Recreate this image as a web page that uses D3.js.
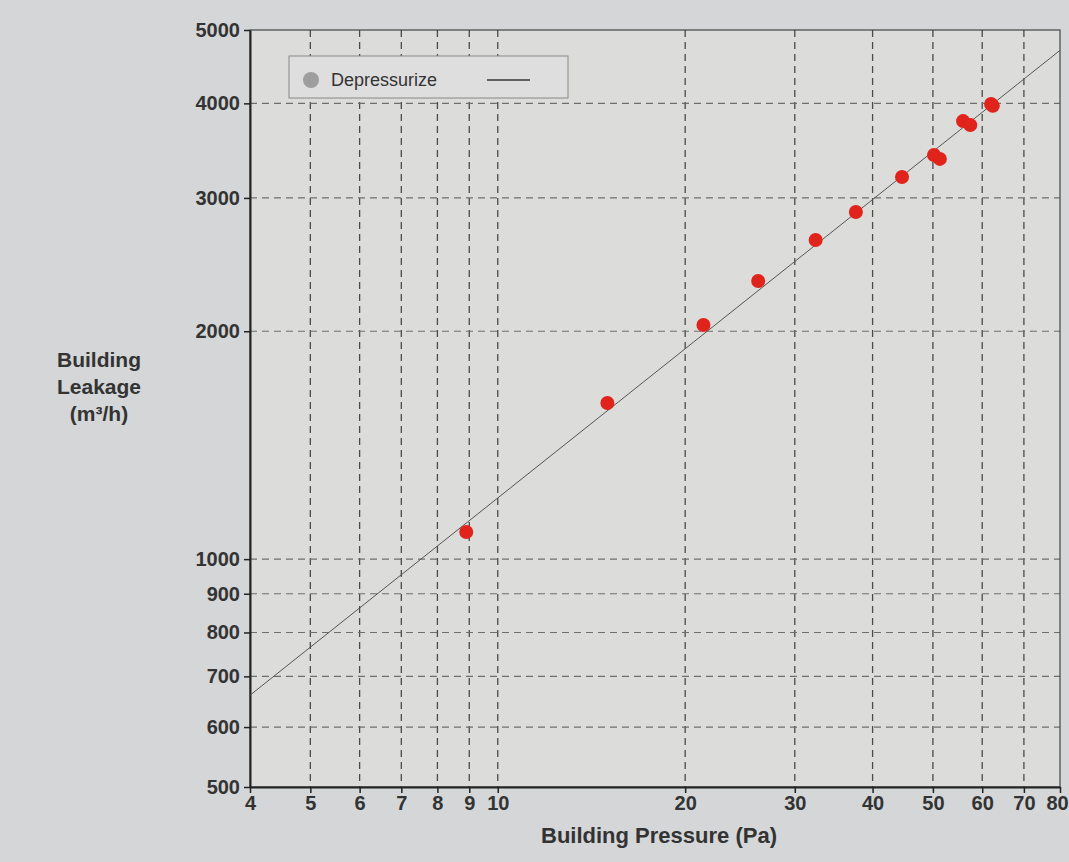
<!DOCTYPE html>
<html>
<head>
<meta charset="utf-8">
<script src="https://cdn.jsdelivr.net/npm/d3@7"></script>
<style>
  body { margin: 0; background: #d4d6d7; }
  svg { display: block; }
  text { font-family: "Liberation Sans", Arial, sans-serif; }
</style>
</head>
<body>
<svg id="chart" width="1069" height="862"></svg>
<script>
// data
var pressure = [8.9, 15.0, 21.4, 26.2, 32.4, 37.6, 44.6, 50.2, 51.3, 55.9, 57.4, 62.0, 62.4];
var leakage  = [1086, 1608, 2038, 2330, 2640, 2874, 3197, 3419, 3378, 3790, 3744, 3992, 3970];
var fitLine = [[4, 661], [80, 4700]];
var xTicks = [4, 5, 6, 7, 8, 9, 10, 20, 30, 40, 50, 60, 70, 80];
var yTicks = [500, 600, 700, 800, 900, 1000, 2000, 3000, 4000, 5000];
var xGrid = [5, 6, 7, 8, 9, 10, 20, 30, 40, 50, 60, 70];
var yGrid = [600, 700, 800, 900, 1000, 2000, 3000, 4000];

var svg = d3.select("#chart");

var plotLeft = 250, plotRight = 1060, plotTop = 30, plotBottom = 787;

var x = d3.scaleLog().domain([4, 80]).range([plotLeft, plotRight]);
var y = d3.scaleLog().domain([500, 5000]).range([plotBottom, plotTop]);

// plot background
svg.append("rect")
  .attr("x", plotLeft).attr("y", plotTop)
  .attr("width", plotRight - plotLeft).attr("height", plotBottom - plotTop)
  .attr("fill", "#dcdcdb");

// dashed grid
svg.append("g").selectAll("line")
  .data(xGrid).enter().append("line")
  .attr("x1", d => x(d)).attr("x2", d => x(d))
  .attr("y1", plotTop).attr("y2", plotBottom)
  .attr("stroke", "#4a4a4a")
  .attr("stroke-width", 1.3)
  .attr("stroke-dasharray", "7,5");

svg.append("g").selectAll("line")
  .data(yGrid).enter().append("line")
  .attr("x1", plotLeft).attr("x2", plotRight)
  .attr("y1", d => y(d)).attr("y2", d => y(d))
  .attr("stroke", "#6e6e6e")
  .attr("stroke-width", 1.2)
  .attr("stroke-dasharray", "7,5");

// frame
svg.append("rect")
  .attr("x", plotLeft).attr("y", plotTop)
  .attr("width", plotRight - plotLeft).attr("height", plotBottom - plotTop)
  .attr("fill", "none")
  .attr("stroke", "#444")
  .attr("stroke-width", 1.2);

// axes
var xAxis = d3.axisBottom(x).tickValues(xTicks).tickFormat(d3.format("d")).tickSize(6).tickSizeOuter(0);
var yAxis = d3.axisLeft(y).tickValues(yTicks).tickFormat(d3.format("d")).tickSize(6).tickSizeOuter(0);

var gx = svg.append("g").attr("transform", "translate(0," + plotBottom + ")").call(xAxis);
var gy = svg.append("g").attr("transform", "translate(" + plotLeft + ",0)").call(yAxis);

[gx, gy].forEach(function(g) {
  g.select(".domain").attr("stroke", "#222").attr("stroke-width", 2);
  g.selectAll(".tick line").attr("stroke", "#222").attr("stroke-width", 1.5);
  g.selectAll(".tick text")
    .attr("fill", "#333")
    .style("font-size", "20px")
    .style("font-weight", "bold");
});
gy.selectAll(".tick text").attr("dx", "-1");
// last label sits at the window edge, nudge it in
gx.selectAll(".tick text").filter(d => d === 80).attr("dx", "-3");

// fit line
var line = d3.line().x(d => x(d[0])).y(d => y(d[1]));
svg.append("path")
  .datum(fitLine)
  .attr("d", line)
  .attr("fill", "none")
  .attr("stroke", "#555")
  .attr("stroke-width", 1);

// points
svg.append("g").selectAll("circle")
  .data(pressure).enter().append("circle")
  .attr("cx", d => x(d))
  .attr("cy", (d, i) => y(leakage[i]))
  .attr("r", 7)
  .attr("fill", "#e0231b");

// legend
var lg = svg.append("g");
lg.append("rect")
  .attr("x", 289).attr("y", 56)
  .attr("width", 279).attr("height", 42)
  .attr("fill", "#dedede")
  .attr("stroke", "#888")
  .attr("stroke-width", 1);
lg.append("circle")
  .attr("cx", 311).attr("cy", 80).attr("r", 8)
  .attr("fill", "#9e9e9e");
lg.append("text")
  .attr("x", 331).attr("y", 86)
  .attr("fill", "#333")
  .style("font-size", "18px")
  .text("Depressurize");
lg.append("line")
  .attr("x1", 487).attr("x2", 530)
  .attr("y1", 80).attr("y2", 80)
  .attr("stroke", "#333").attr("stroke-width", 1.3);

// axis titles
svg.append("text")
  .attr("x", 659).attr("y", 843)
  .attr("text-anchor", "middle")
  .attr("fill", "#333")
  .style("font-size", "22px")
  .style("font-weight", "bold")
  .text("Building Pressure (Pa)");

var yTitle = ["Building", "Leakage", "(m³/h)"];
svg.append("g").selectAll("text")
  .data(yTitle).enter().append("text")
  .attr("x", 99)
  .attr("y", (d, i) => 367 + i * 27)
  .attr("text-anchor", "middle")
  .attr("fill", "#333")
  .style("font-size", "21px")
  .style("font-weight", "bold")
  .text(d => d);
</script>
</body>
</html>
